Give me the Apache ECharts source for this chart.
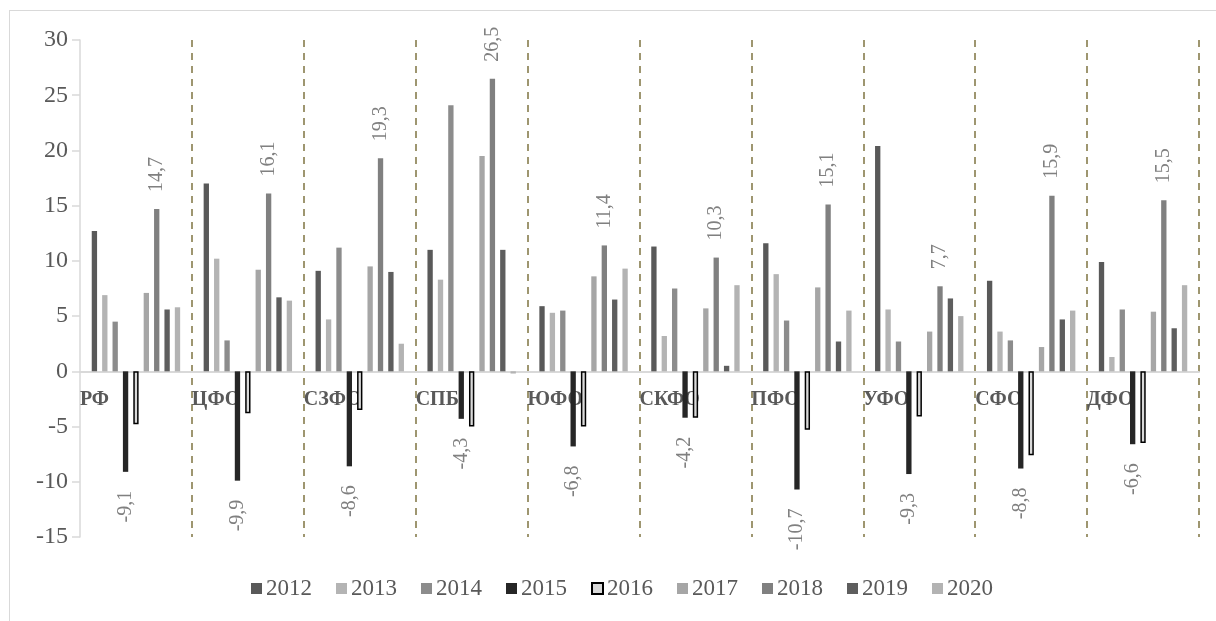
<!DOCTYPE html>
<html>
<head>
<meta charset="utf-8">
<script src="https://cdn.jsdelivr.net/npm/echarts@6/dist/echarts.min.js"></script>
<style>
  html, body { margin: 0; padding: 0; background: #fff; }
  #frame { position: absolute; left: 9px; top: 10px; width: 1230px; height: 640px; border: 1px solid #d9d9d9; box-sizing: border-box; }
  #chart { position: absolute; left: 0; top: 0; width: 1216px; height: 621px; }
</style>
</head>
<body>
<div id="frame"></div>
<div id="chart"></div>
<script>
const categories = ['РФ', 'ЦФО', 'СЗФО', 'СПБ', 'ЮФО', 'СКФО', 'ПФО', 'УФО', 'СФО', 'ДФО'];
const years = ['2012', '2013', '2014', '2015', '2016', '2017', '2018', '2019', '2020'];
const yTicks = [-15, -10, -5, 0, 5, 10, 15, 20, 25, 30];

const v2012 = [12.7, 17.0, 9.1, 11.0, 5.9, 11.3, 11.6, 20.4, 8.2, 9.9];
const v2013 = [6.9, 10.2, 4.7, 8.3, 5.3, 3.2, 8.8, 5.6, 3.6, 1.3];
const v2014 = [4.5, 2.8, 11.2, 24.1, 5.5, 7.5, 4.6, 2.7, 2.8, 5.6];
const v2015 = [-9.1, -9.9, -8.6, -4.3, -6.8, -4.2, -10.7, -9.3, -8.8, -6.6];
const v2016 = [-4.8, -3.8, -3.5, -5.0, -5.0, -4.2, -5.3, -4.1, -7.6, -6.5];
const v2017 = [7.1, 9.2, 9.5, 19.5, 8.6, 5.7, 7.6, 3.6, 2.2, 5.4];
const v2018 = [14.7, 16.1, 19.3, 26.5, 11.4, 10.3, 15.1, 7.7, 15.9, 15.5];
const v2019 = [5.6, 6.7, 9.0, 11.0, 6.5, 0.5, 2.7, 6.6, 4.7, 3.9];
const v2020 = [5.8, 6.4, 2.5, -0.2, 9.3, 7.8, 5.5, 5.0, 5.5, 7.8];

const seriesValues = [v2012, v2013, v2014, v2015, v2016, v2017, v2018, v2019, v2020];
const colors = ['#595959', '#b4b4b4', '#8c8c8c', '#262626', '#d9d9d9', '#a6a6a6', '#808080', '#5e5e5e', '#b3b3b3'];

const FONT = '"Liberation Serif", "Times New Roman", serif';
const fmt = p => String(p.value).replace('.', ',');

const series = years.map((y, i) => {
  const s = {
    name: y,
    type: 'bar',
    z: 5,
    data: seriesValues[i],
    barGap: '95%',
    barCategoryGap: '21%',
    itemStyle: { color: colors[i] },
    emphasis: { disabled: true }
  };
  if (y === '2016') {
    s.itemStyle = { color: colors[i], borderColor: '#000', borderWidth: 1.5 };
  }
  if (y === '2018') {
    s.label = { show: true, position: 'top', distance: 17, rotate: 90, align: 'left', verticalAlign: 'middle',
      color: '#808080', fontFamily: FONT, fontSize: 20, formatter: fmt };
  }
  if (y === '2015') {
    s.label = { show: true, position: 'bottom', distance: 19, rotate: 90, align: 'right', verticalAlign: 'middle',
      color: '#808080', fontFamily: FONT, fontSize: 20, formatter: fmt };
  }
  return s;
});

const chart = echarts.init(document.getElementById('chart'), null, { renderer: 'canvas' });
chart.setOption({
  animation: false,
  color: colors,
  grid: { left: 80, right: 17, top: 40, bottom: 84, containLabel: false },
  legend: {
    data: years,
    left: 246,
    top: 572,
    itemWidth: 11,
    itemHeight: 11,
    itemGap: 24,
    icon: 'rect',
    textStyle: { fontFamily: FONT, fontSize: 23, color: '#595959', padding: [0, 0, 0, -1] }
  },
  xAxis: {
    type: 'category',
    z: 0,
    data: categories,
    axisLine: { onZero: true, lineStyle: { color: '#d9d9d9', width: 2 } },
    axisTick: { show: false },
    splitLine: { show: true, showMinLine: false, showMaxLine: true, interval: 0,
      lineStyle: { color: '#9e9670', width: 2, type: [7, 6] } },
    axisLabel: {
      interval: 0,
      margin: -147,
      formatter: v => '{a|' + v + '}',
      rich: { a: { width: 112, align: 'left', fontFamily: FONT, fontSize: 20, fontWeight: 'bold', color: '#595959' } }
    }
  },
  yAxis: {
    type: 'value',
    min: -15,
    max: 30,
    interval: 5,
    axisLine: { show: true, lineStyle: { color: '#d9d9d9', width: 1.5 } },
    axisTick: { show: true, length: 8, lineStyle: { color: '#d9d9d9', width: 1.5 } },
    splitLine: { show: false },
    axisLabel: { margin: 12, fontFamily: FONT, fontSize: 24, color: '#595959',
      formatter: v => yTicks.includes(v) ? String(v) : '' }
  },
  series: series
});
</script>
</body>
</html>
